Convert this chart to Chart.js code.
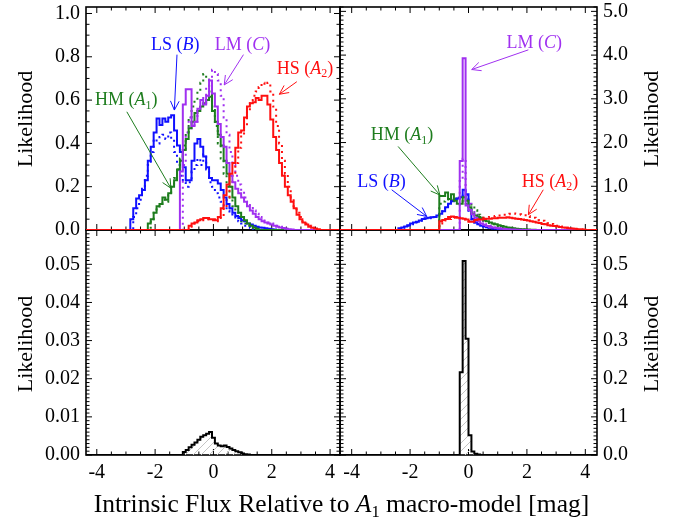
<!DOCTYPE html>
<html>
<head>
<meta charset="utf-8">
<script src="https://cdn.jsdelivr.net/npm/chart.js@4.4.0/dist/chart.umd.min.js"></script>
<style>
  body { margin: 0; background: #fff; }
  #wrap { position: relative; width: 675px; height: 522px; font-family: "Liberation Serif", "Times New Roman", serif; color: #000; }
  canvas { position: absolute; left: 0; top: 0; }
  .ylab { position: absolute; font-size: 22px; transform: translate(-50%, -50%) rotate(-90deg); white-space: nowrap; }
  #xtitle { position: absolute; left: 0; width: 683px; top: 489px; text-align: center; font-size: 25.5px; white-space: nowrap; }
  #xtitle sub { font-size: 0.65em; vertical-align: -0.3em; line-height: 0; }
</style>
</head>
<body>
<div id="wrap">
  <canvas id="bl" width="675" height="522"></canvas>
  <canvas id="br" width="675" height="522"></canvas>
  <canvas id="tl" width="675" height="522"></canvas>
  <canvas id="tr" width="675" height="522"></canvas>
  <div class="ylab" style="left:25px;top:119px">Likelihood</div>
  <div class="ylab" style="left:25px;top:344px">Likelihood</div>
  <div class="ylab" style="left:651px;top:119px">Likelihood</div>
  <div class="ylab" style="left:651px;top:344px">Likelihood</div>
  <div id="xtitle">Intrinsic Flux Relative to <i>A</i><sub>1</sub> macro-model [mag]</div>
</div>
<script>
// tick labels
const xTicks = [-4, -2, 0, 2, 4];
const yTicksTL = [0, 0.2, 0.4, 0.6, 0.8, 1.0];
const yTicksTR = [0, 1, 2, 3, 4, 5];
const yTicksBL = [0, 0.01, 0.02, 0.03, 0.04, 0.05];
const yTicksBR = [0, 0.1, 0.2, 0.3, 0.4, 0.5];

// histogram bin width [mag]
const BIN = 0.1;

// top left panel: solid and dotted likelihoods per image
const lsLeftStart = -2.85;
const lsLeft = [0.015, 0.05, 0.10, 0.145, 0.16, 0.185, 0.23, 0.32, 0.385, 0.45, 0.515, 0.485, 0.515, 0.50, 0.52, 0.53, 0.46, 0.39, 0.36, 0.29, 0.23, 0.23, 0.32, 0.40, 0.42, 0.385, 0.34, 0.29, 0.24, 0.23, 0.23, 0.215, 0.185, 0.15, 0.12, 0.10, 0.08, 0.065, 0.055, 0.045, 0.04, 0.03, 0.025, 0.02, 0.015, 0.012, 0.01, 0.008, 0.006, 0.004, 0.002];
const lsLeftDotStart = -2.75;
const lsLeftDot = [0.03, 0.06, 0.10, 0.14, 0.19, 0.25, 0.30, 0.36, 0.42, 0.40, 0.43, 0.44, 0.42, 0.45, 0.42, 0.36, 0.30, 0.25, 0.22, 0.20, 0.22, 0.27, 0.30, 0.33, 0.30, 0.35, 0.28, 0.22, 0.20, 0.17, 0.15, 0.13, 0.11, 0.09, 0.08, 0.065, 0.05, 0.04, 0.03, 0.02, 0.015, 0.01];
const hmLeftStart = -2.25;
const hmLeft = [0.01, 0.03, 0.05, 0.08, 0.11, 0.12, 0.15, 0.14, 0.17, 0.20, 0.23, 0.28, 0.32, 0.37, 0.42, 0.47, 0.50, 0.54, 0.55, 0.57, 0.585, 0.60, 0.615, 0.55, 0.50, 0.44, 0.39, 0.32, 0.26, 0.20, 0.15, 0.11, 0.08, 0.06, 0.045, 0.03, 0.02, 0.012, 0.006];
const hmLeftDotStart = -2.15;
const hmLeftDot = [0.02, 0.05, 0.08, 0.10, 0.12, 0.14, 0.13, 0.16, 0.20, 0.24, 0.28, 0.33, 0.39, 0.45, 0.52, 0.57, 0.60, 0.64, 0.68, 0.72, 0.70, 0.64, 0.57, 0.48, 0.40, 0.33, 0.26, 0.20, 0.15, 0.11, 0.08, 0.06, 0.04, 0.03, 0.02, 0.01];
const lmLeftStart = -1.15;
const lmLeft = [0.12, 0.27, 0.58, 0.65, 0.65, 0.48, 0.50, 0.56, 0.60, 0.58, 0.62, 0.69, 0.63, 0.57, 0.49, 0.43, 0.385, 0.31, 0.25, 0.22, 0.19, 0.17, 0.15, 0.13, 0.11, 0.09, 0.075, 0.06, 0.05, 0.04, 0.035, 0.03, 0.025, 0.02, 0.015, 0.012, 0.009, 0.006, 0.004, 0.002];
const lmLeftDotStart = -1.05;
const lmLeftDot = [0.10, 0.30, 0.45, 0.52, 0.47, 0.50, 0.55, 0.58, 0.62, 0.66, 0.70, 0.74, 0.72, 0.69, 0.62, 0.52, 0.44, 0.36, 0.30, 0.25, 0.21, 0.18, 0.15, 0.13, 0.11, 0.09, 0.075, 0.06, 0.05, 0.04, 0.035, 0.03, 0.025, 0.02, 0.015, 0.01, 0.007, 0.004];
const hsLeftStart = -0.85;
const hsLeft = [0.01, 0.02, 0.03, 0.035, 0.045, 0.05, 0.055, 0.055, 0.05, 0.05, 0.045, 0.06, 0.10, 0.16, 0.21, 0.26, 0.31, 0.38, 0.45, 0.46, 0.52, 0.57, 0.585, 0.59, 0.61, 0.60, 0.62, 0.62, 0.58, 0.51, 0.43, 0.37, 0.31, 0.25, 0.20, 0.16, 0.13, 0.10, 0.07, 0.05, 0.035, 0.025, 0.015, 0.01, 0.007, 0.004];
const hsLeftDotStart = -0.85;
const hsLeftDot = [0.01, 0.015, 0.02, 0.03, 0.04, 0.045, 0.05, 0.05, 0.05, 0.045, 0.04, 0.045, 0.06, 0.10, 0.15, 0.20, 0.25, 0.31, 0.38, 0.44, 0.48, 0.55, 0.60, 0.62, 0.64, 0.66, 0.68, 0.67, 0.68, 0.64, 0.57, 0.48, 0.40, 0.32, 0.26, 0.20, 0.15, 0.11, 0.08, 0.06, 0.04, 0.03, 0.02, 0.01];

// top right panel
const lsRightStart = -2.4;
const lsRight = [0.02, 0.04, 0.06, 0.08, 0.11, 0.15, 0.17, 0.19, 0.22, 0.25, 0.27, 0.28, 0.29, 0.30, 0.33, 0.37, 0.43, 0.52, 0.60, 0.66, 0.70, 0.72, 0.75, 0.92, 0.82, 0.45, 0.25, 0.17, 0.13, 0.10, 0.08, 0.065, 0.05, 0.04, 0.03, 0.025, 0.02, 0.015, 0.01, 0.008, 0.005];
const lsRightDotStart = -2.4;
const lsRightDot = [0.02, 0.03, 0.05, 0.07, 0.10, 0.13, 0.15, 0.18, 0.21, 0.24, 0.26, 0.27, 0.28, 0.30, 0.34, 0.40, 0.47, 0.55, 0.63, 0.68, 0.72, 0.74, 0.78, 0.82, 0.70, 0.40, 0.24, 0.17, 0.13, 0.10, 0.08, 0.06, 0.045, 0.035, 0.025, 0.02, 0.015, 0.01, 0.006];
const hmRightStart = -1.0;
const hmRight = [0.56, 0.78, 0.78, 0.86, 0.71, 0.82, 0.67, 0.60, 0.60, 0.75, 0.67, 0.52, 0.37, 0.33, 0.30, 0.26, 0.22, 0.20, 0.17, 0.15, 0.13, 0.11, 0.09, 0.075, 0.06, 0.05, 0.04, 0.03, 0.025, 0.02, 0.015, 0.01, 0.008, 0.005];
const hmRightDotStart = -1.0;
const hmRightDot = [0.40, 0.60, 0.65, 0.70, 0.72, 0.68, 0.72, 0.75, 0.70, 0.65, 0.60, 0.58, 0.56, 0.45, 0.35, 0.28, 0.23, 0.19, 0.16, 0.13, 0.11, 0.09, 0.07, 0.055, 0.045, 0.035, 0.028, 0.02, 0.015, 0.01];
const lmRightStart = -0.3;
const lmRight = [0.40, 1.58, 3.93, 0.56, 0.46, 0.36, 0.28, 0.20, 0.15, 0.12, 0.09, 0.07, 0.055, 0.045, 0.035, 0.028, 0.022, 0.017, 0.013, 0.01, 0.007, 0.005];
const lmRightDotStart = -0.3;
const lmRightDot = [0.30, 1.12, 1.63, 0.80, 0.60, 0.45, 0.35, 0.28, 0.22, 0.17, 0.13, 0.10, 0.08, 0.06, 0.045, 0.035, 0.025, 0.018, 0.012, 0.008];
const hsRightStart = -1.0;
const hsRight = [0.15, 0.20, 0.23, 0.25, 0.30, 0.31, 0.30, 0.28, 0.27, 0.26, 0.24, 0.19, 0.19, 0.23, 0.24, 0.24, 0.25, 0.26, 0.26, 0.27, 0.27, 0.28, 0.28, 0.28, 0.29, 0.28, 0.27, 0.26, 0.25, 0.24, 0.23, 0.22, 0.20, 0.19, 0.17, 0.16, 0.14, 0.13, 0.11, 0.10, 0.09, 0.08, 0.07, 0.06, 0.05, 0.04, 0.035, 0.03, 0.02, 0.015, 0.01];
const hsRightDotStart = -1.0;
const hsRightDot = [0.10, 0.15, 0.20, 0.22, 0.25, 0.26, 0.28, 0.27, 0.25, 0.24, 0.22, 0.20, 0.22, 0.25, 0.26, 0.27, 0.28, 0.29, 0.30, 0.31, 0.32, 0.33, 0.34, 0.35, 0.36, 0.37, 0.38, 0.37, 0.36, 0.35, 0.34, 0.32, 0.30, 0.28, 0.26, 0.23, 0.21, 0.18, 0.16, 0.14, 0.12, 0.10, 0.08, 0.07, 0.05, 0.04, 0.03, 0.02, 0.015, 0.01];

// bottom panels: combined likelihood
const combLeftStart = -1.05;
const combLeft = [0.0003, 0.0008, 0.0013, 0.002, 0.0027, 0.0033, 0.004, 0.0048, 0.0052, 0.0056, 0.006, 0.0045, 0.003, 0.0025, 0.0023, 0.0025, 0.0021, 0.0017, 0.0013, 0.001, 0.0007, 0.0004, 0.0002, 0.0001];
const combRightStart = -0.3;
const combRight = [0.017, 0.217, 0.509, 0.305, 0.052, 0.009, 0.003, 0.001];

const BLUE = "#1010ff", GREEN = "#1e7d1e", PURPLE = "#a030f0", RED = "#ff1010";
const FONT = '"Liberation Serif", "Times New Roman", serif';

// step outline of a histogram, running along zero outside the filled bins
function histPoints(start, values, xmin, xmax) {
  const pts = [{ x: xmin, y: 0 }, { x: start, y: 0 }];
  values.forEach((v, i) => pts.push({ x: start + i * BIN, y: v }));
  pts.push({ x: start + values.length * BIN, y: 0 });
  pts.push({ x: xmax, y: 0 });
  return pts;
}

function hist(start, values, color, dotted, range) {
  return {
    data: histPoints(start, values, range[0], range[1]),
    borderColor: color,
    borderWidth: 2,
    borderDash: dotted ? [2, 4] : [],
    stepped: "after",
    pointRadius: 0,
    fill: false,
  };
}

function hatchPattern() {
  const c = document.createElement("canvas");
  c.width = 8; c.height = 8;
  const g = c.getContext("2d");
  g.strokeStyle = "#c4c4c4";
  g.lineWidth = 1;
  g.beginPath();
  g.moveTo(0, 8); g.lineTo(8, 0);
  g.moveTo(-1, 1); g.lineTo(1, -1);
  g.moveTo(7, 9); g.lineTo(9, 7);
  g.stroke();
  return g.createPattern(c, "repeat");
}

// frame with inward IDL-style tick marks on every side
function framePlugin(f) {
  return {
    id: "frame",
    beforeDatasetsDraw(chart) {
      const { ctx, chartArea: a, scales: { x, y } } = chart;
      ctx.save();
      ctx.strokeStyle = "#000";
      ctx.lineWidth = 1;
      const marks = (scale, minor, major, fn) => {
        const k0 = Math.ceil(scale.min / minor - 1e-6), k1 = Math.floor(scale.max / minor + 1e-6);
        for (let k = k0; k <= k1; k++) {
          const v = k * minor;
          const isMajor = Math.abs(v / major - Math.round(v / major)) < 1e-6;
          fn(scale.getPixelForValue(v), isMajor ? 6 : 3.5);
        }
      };
      ctx.beginPath();
      marks(x, f.xMinor, f.xMajor, (p, len) => {
        ctx.moveTo(p, a.bottom); ctx.lineTo(p, a.bottom - len);
        ctx.moveTo(p, a.top); ctx.lineTo(p, a.top + len);
      });
      marks(y, f.yMinor, f.yMajor, (p, len) => {
        ctx.moveTo(a.left, p); ctx.lineTo(a.left + len, p);
        ctx.moveTo(a.right, p); ctx.lineTo(a.right - len, p);
      });
      ctx.stroke();
      ctx.lineWidth = 1.6;
      ctx.strokeRect(a.left, a.top, a.right - a.left, a.bottom - a.top);
      ctx.restore();
    },
  };
}

function drawRich(ctx, parts, cx, cy, color) {
  const size = 18;
  const fontFor = (p) => `${p[1] === "i" ? "italic " : ""}${p[1] === "sub" ? Math.round(size * 0.65) : size}px ${FONT}`;
  let w = 0;
  parts.forEach((p) => { ctx.font = fontFor(p); w += ctx.measureText(p[0]).width; });
  let xx = cx - w / 2;
  ctx.fillStyle = color;
  ctx.textAlign = "left";
  ctx.textBaseline = "middle";
  parts.forEach((p) => {
    ctx.font = fontFor(p);
    ctx.fillText(p[0], xx, cy + (p[1] === "sub" ? size * 0.3 : 0));
    xx += ctx.measureText(p[0]).width;
  });
}

// labels with arrows, placed in data coordinates
function notesPlugin(items) {
  return {
    id: "notes",
    afterDatasetsDraw(chart) {
      const { ctx, scales: { x, y } } = chart;
      ctx.save();
      items.forEach((n) => {
        const x0 = x.getPixelForValue(n.tail[0]), y0 = y.getPixelForValue(n.tail[1]);
        const x1 = x.getPixelForValue(n.tip[0]), y1 = y.getPixelForValue(n.tip[1]);
        const ang = Math.atan2(y1 - y0, x1 - x0);
        ctx.strokeStyle = n.color;
        ctx.lineWidth = 1;
        ctx.beginPath();
        ctx.moveTo(x0, y0); ctx.lineTo(x1, y1);
        ctx.moveTo(x1 - 10 * Math.cos(ang - 0.45), y1 - 10 * Math.sin(ang - 0.45));
        ctx.lineTo(x1, y1);
        ctx.lineTo(x1 - 10 * Math.cos(ang + 0.45), y1 - 10 * Math.sin(ang + 0.45));
        ctx.stroke();
        drawRich(ctx, n.parts, x.getPixelForValue(n.at[0]), y.getPixelForValue(n.at[1]), n.color);
      });
      ctx.restore();
    },
  };
}

// c.box: plot area edges in page pixels; axis boxes take the space outside it
function makeChart(id, c) {
  const tickFont = { family: FONT, size: 20 };
  const W = 675, H = 522;
  const yLeft = c.yPos === "left";
  const pad = {
    left: yLeft ? 0 : c.box.left,
    right: yLeft ? W - c.box.right : 0,
    top: c.box.top,
    bottom: c.xLabels ? 0 : H - c.box.bottom,
  };
  const fitX = (s) => {
    s.height = c.xLabels ? H - c.box.bottom : 0;
    s.paddingTop = s.paddingBottom = s.paddingLeft = s.paddingRight = 0;
  };
  const fitY = (s) => {
    s.width = yLeft ? c.box.left : W - c.box.right;
    s.paddingTop = s.paddingBottom = s.paddingLeft = s.paddingRight = 0;
  };
  return new Chart(document.getElementById(id), {
    type: "line",
    data: { datasets: c.datasets },
    options: {
      responsive: false,
      animation: false,
      events: [],
      layout: { padding: pad, autoPadding: false },
      plugins: { legend: { display: false }, tooltip: { enabled: false } },
      scales: {
        x: {
          type: "linear", min: c.xRange[0], max: c.xRange[1], position: "bottom",
          grid: { display: false, drawTicks: false }, border: { display: false },
          afterBuildTicks: (s) => { s.ticks = xTicks.map((v) => ({ value: v })); },
          afterFit: fitX,
          ticks: { display: c.xLabels, padding: 6, font: tickFont, color: "#000", autoSkip: false, maxRotation: 0, callback: (v) => String(v) },
        },
        y: {
          type: "linear", min: 0, max: c.yMax, position: c.yPos,
          grid: { display: false, drawTicks: false }, border: { display: false },
          afterBuildTicks: (s) => { s.ticks = c.yTicks.map((v) => ({ value: v })); },
          afterFit: fitY,
          ticks: { padding: 6, font: tickFont, color: "#000", callback: (v) => Number(v).toFixed(c.yDec) },
        },
      },
    },
    plugins: [framePlugin(c.frame), notesPlugin(c.notes || [])],
  });
}

const leftRange = [-4.37, 4.34];
const rightRange = [-4.4, 4.4];

makeChart("tl", {
  box: { left: 86, right: 340, top: 7, bottom: 230 }, xRange: leftRange, yMax: 1.03, yTicks: yTicksTL, yDec: 1, yPos: "left", xLabels: false,
  frame: { xMinor: 0.5, xMajor: 2, yMinor: 0.05, yMajor: 0.2 },
  datasets: [
    hist(hsLeftStart, hsLeft, RED, false, leftRange),
    hist(lmLeftStart, lmLeft, PURPLE, false, leftRange),
    hist(hmLeftStart, hmLeft, GREEN, false, leftRange),
    hist(lsLeftStart, lsLeft, BLUE, false, leftRange),
    hist(hsLeftDotStart, hsLeftDot, RED, true, leftRange),
    hist(lmLeftDotStart, lmLeftDot, PURPLE, true, leftRange),
    hist(hmLeftDotStart, hmLeftDot, GREEN, true, leftRange),
    hist(lsLeftDotStart, lsLeftDot, BLUE, true, leftRange),
  ],
  notes: [
    { parts: [["LS ("], ["B", "i"], [")"]], color: BLUE, at: [-1.31, 0.851], tail: [-1.25, 0.81], tip: [-1.34, 0.554] },
    { parts: [["LM ("], ["C", "i"], [")"]], color: PURPLE, at: [1.0, 0.851], tail: [1.03, 0.81], tip: [0.37, 0.67] },
    { parts: [["HS ("], ["A", "i"], ["2", "sub"], [")"]], color: RED, at: [3.14, 0.744], tail: [2.86, 0.685], tip: [2.26, 0.627] },
    { parts: [["HM ("], ["A", "i"], ["1", "sub"], [")"]], color: GREEN, at: [-2.99, 0.60], tail: [-2.97, 0.546], tip: [-1.46, 0.193] },
  ],
});

makeChart("tr", {
  box: { left: 340, right: 597, top: 7, bottom: 230 }, xRange: rightRange, yMax: 5.1, yTicks: yTicksTR, yDec: 1, yPos: "right", xLabels: false,
  frame: { xMinor: 0.5, xMajor: 2, yMinor: 0.1, yMajor: 1 },
  datasets: [
    hist(hsRightStart, hsRight, RED, false, rightRange),
    hist(lmRightStart, lmRight, PURPLE, false, rightRange),
    hist(hmRightStart, hmRight, GREEN, false, rightRange),
    hist(lsRightStart, lsRight, BLUE, false, rightRange),
    hist(hsRightDotStart, hsRightDot, RED, true, rightRange),
    hist(lmRightDotStart, lmRightDot, PURPLE, true, rightRange),
    hist(hmRightDotStart, hmRightDot, GREEN, true, rightRange),
    hist(lsRightDotStart, lsRightDot, BLUE, true, rightRange),
  ],
  notes: [
    { parts: [["LM ("], ["C", "i"], [")"]], color: PURPLE, at: [2.25, 4.27], tail: [2.05, 4.12], tip: [0.11, 3.67] },
    { parts: [["HM ("], ["A", "i"], ["1", "sub"], [")"]], color: GREEN, at: [-2.28, 2.17], tail: [-2.41, 1.91], tip: [-0.98, 0.8] },
    { parts: [["LS ("], ["B", "i"], [")"]], color: BLUE, at: [-2.98, 1.1], tail: [-2.63, 0.92], tip: [-1.43, 0.31] },
    { parts: [["HS ("], ["A", "i"], ["2", "sub"], [")"]], color: RED, at: [2.79, 1.1], tail: [2.56, 0.92], tip: [2.05, 0.35] },
  ],
});

const hatch = hatchPattern();
const combined = (start, values, range) => ({
  ...hist(start, values, "#000", false, range),
  fill: "origin",
  backgroundColor: hatch,
});

makeChart("bl", {
  box: { left: 86, right: 340, top: 230, bottom: 455 }, xRange: leftRange, yMax: 0.059, yTicks: yTicksBL, yDec: 2, yPos: "left", xLabels: true,
  frame: { xMinor: 0.5, xMajor: 2, yMinor: 0.001, yMajor: 0.01 },
  datasets: [combined(combLeftStart, combLeft, leftRange)],
});

makeChart("br", {
  box: { left: 340, right: 597, top: 230, bottom: 455 }, xRange: rightRange, yMax: 0.59, yTicks: yTicksBR, yDec: 1, yPos: "right", xLabels: true,
  frame: { xMinor: 0.5, xMajor: 2, yMinor: 0.01, yMajor: 0.1 },
  datasets: [combined(combRightStart, combRight, rightRange)],
});
</script>
</body>
</html>
